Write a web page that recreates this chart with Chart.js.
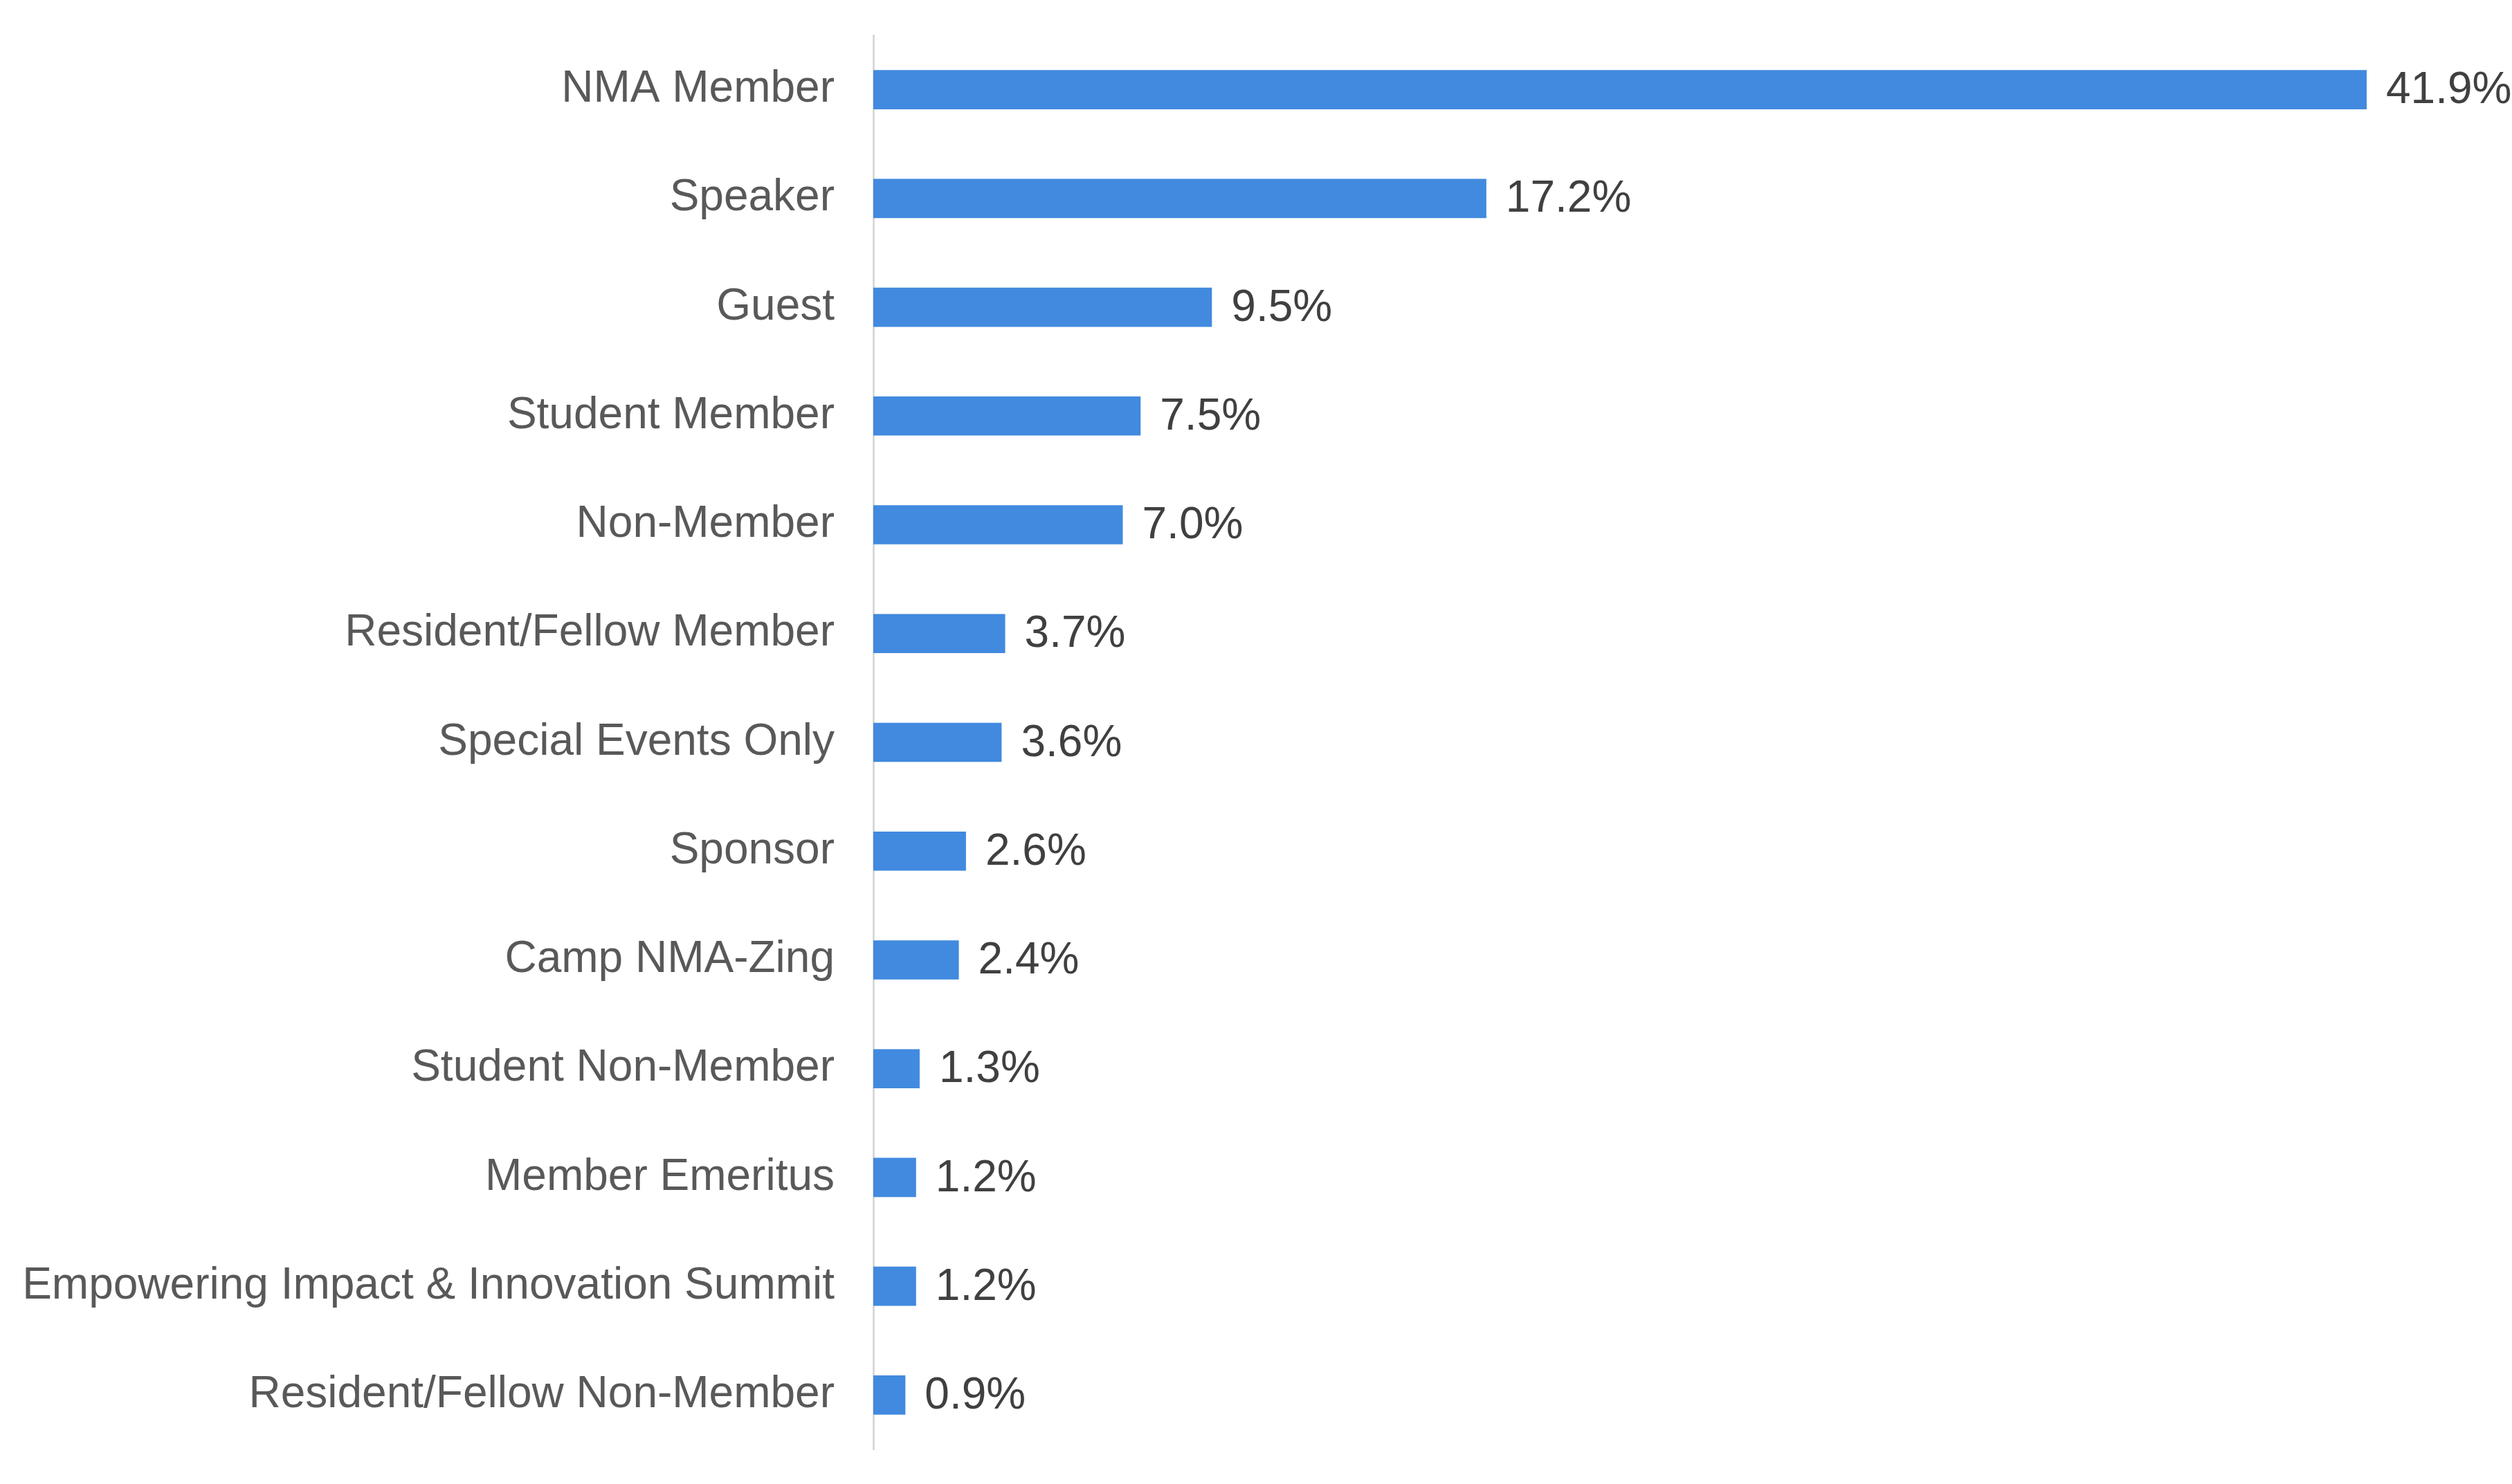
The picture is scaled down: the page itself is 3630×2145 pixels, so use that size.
<!DOCTYPE html>
<html>
<head>
<meta charset="utf-8">
<script src="https://cdn.jsdelivr.net/npm/chart.js@4"></script>
<style>
  html, body { margin: 0; padding: 0; background: #ffffff; }
  #wrap { width: 100vw; height: 100vh; }
</style>
</head>
<body>
<div id="wrap"><canvas id="regChart"></canvas></div>
<script>
const categories = [
  'NMA Member',
  'Speaker',
  'Guest',
  'Student Member',
  'Non-Member',
  'Resident/Fellow Member',
  'Special Events Only',
  'Sponsor',
  'Camp NMA-Zing',
  'Student Non-Member',
  'Member Emeritus',
  'Empowering Impact & Innovation Summit',
  'Resident/Fellow Non-Member'
];

const shares = [41.9, 17.2, 9.5, 7.5, 7.0, 3.7, 3.6, 2.6, 2.4, 1.3, 1.2, 1.2, 0.9];

// draws the "xx.x%" text at the end of each bar
const valueLabels = {
  id: 'valueLabels',
  afterDatasetsDraw(chart) {
    const ctx = chart.ctx;
    const meta = chart.getDatasetMeta(0);
    ctx.save();
    ctx.font = '64px "Liberation Sans", Arial, sans-serif';
    ctx.fillStyle = '#404040';
    ctx.textAlign = 'left';
    ctx.textBaseline = 'middle';
    meta.data.forEach((bar, i) => {
      const v = chart.data.datasets[0].data[i];
      ctx.fillText(v.toFixed(1) + '%', bar.x + 28, bar.y + 2);
    });
    ctx.restore();
  }
};

const ctx = document.getElementById('regChart').getContext('2d');

new Chart(ctx, {
  type: 'bar',
  data: {
    labels: categories,
    datasets: [{
      data: shares,
      backgroundColor: '#418ADF',
      borderWidth: 0,
      barPercentage: 0.36,
      categoryPercentage: 1.0
    }]
  },
  plugins: [valueLabels],
  options: {
    indexAxis: 'y',
    responsive: true,
    maintainAspectRatio: false,
    animation: false,
    layout: {
      padding: { left: 0, right: 210, top: 51, bottom: 50 }
    },
    plugins: {
      legend: { display: false },
      tooltip: { enabled: false }
    },
    scales: {
      x: {
        display: false,
        min: 0,
        max: 41.9
      },
      y: {
        afterFit(scale) {
          scale.width = 1262;
          scale.paddingTop = 0;
          scale.paddingBottom = 0;
        },
        grid: { display: false, drawTicks: false },
        border: { display: true, color: '#D9D9D9', width: 3 },
        ticks: {
          padding: 56,
          color: '#595959',
          font: { family: '"Liberation Sans", Arial, sans-serif', size: 64 }
        }
      }
    }
  }
});
</script>
</body>
</html>
